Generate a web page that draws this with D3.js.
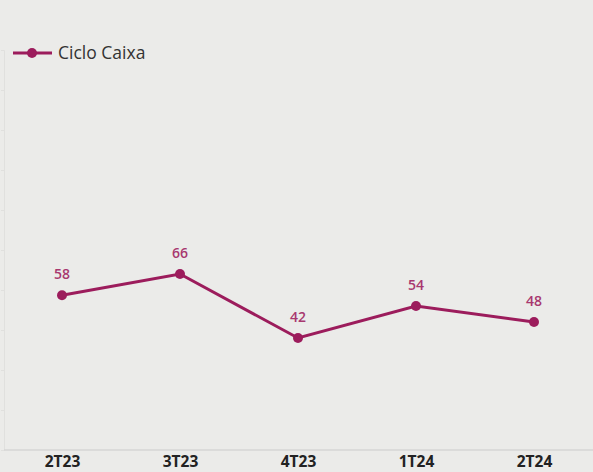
<!DOCTYPE html>
<html><head><meta charset="utf-8">
<script src="https://cdn.jsdelivr.net/npm/d3@7"></script>
<style>
html,body{margin:0;padding:0;background:#ebebe9;}
svg{display:block;}
</style></head>
<body>
<svg id="chart" width="593" height="472"></svg>
<script>
const categories = ["2T23","3T23","4T23","1T24","2T24"];
const values = [58,66,42,54,48];
const seriesName = "Ciclo Caixa";
const yTicks = [0,15,30,45,60,75,90,105,120,135,150];

const svg = d3.select("#chart");
const color = "#9c1c5c";
const x = d3.scalePoint().domain(categories).range([62,534]);
const y = d3.scaleLinear().domain([0,150]).range([450,50]);

svg.append("rect").attr("width",593).attr("height",472).attr("fill","#ebebe9");

// faint left axis
const yAxis = svg.append("g").attr("transform","translate(4,0)")
  .call(d3.axisLeft(y).tickValues(yTicks).tickSize(3).tickFormat(""));
yAxis.selectAll("line, path").attr("stroke","#e0e0de");

// baseline
const xAxis = svg.append("g").attr("transform","translate(0,450)")
  .call(d3.axisBottom(x).tickSize(0).tickPadding(0));
xAxis.select(".domain").attr("stroke","#d6d6d4").attr("stroke-width",1.5).attr("d","M4,0H593");
xAxis.selectAll("text").attr("font-family","'Open Sans', sans-serif").attr("font-size",15.5)
  .attr("font-weight","bold").attr("fill","#222").attr("y",16.5).attr("dy","0");

const line = d3.line().x((d,i)=>x(categories[i])).y(d=>y(d));
svg.append("path").datum(values).attr("d",line).attr("fill","none")
  .attr("stroke",color).attr("stroke-width",3);
svg.selectAll("circle.pt").data(values).join("circle").attr("class","pt")
  .attr("cx",(d,i)=>x(categories[i])).attr("cy",d=>y(d)).attr("r",5).attr("fill",color);
svg.selectAll("text.lbl").data(values).join("text").attr("class","lbl")
  .attr("x",(d,i)=>x(categories[i])).attr("y",d=>y(d)-16)
  .attr("text-anchor","middle").attr("font-family","'Open Sans', sans-serif")
  .attr("font-size",14).attr("font-weight","600").attr("fill","#a8386f").text(d=>d);

// legend
const lg = svg.append("g");
lg.append("line").attr("x1",13).attr("x2",52).attr("y1",53).attr("y2",53)
  .attr("stroke",color).attr("stroke-width",3);
lg.append("circle").attr("cx",32).attr("cy",53).attr("r",5).attr("fill",color);
lg.append("text").attr("x",58).attr("y",59).attr("font-family","'Open Sans', sans-serif")
  .attr("font-size",17.5).attr("fill","#333").text(seriesName);
</script>
</body></html>
